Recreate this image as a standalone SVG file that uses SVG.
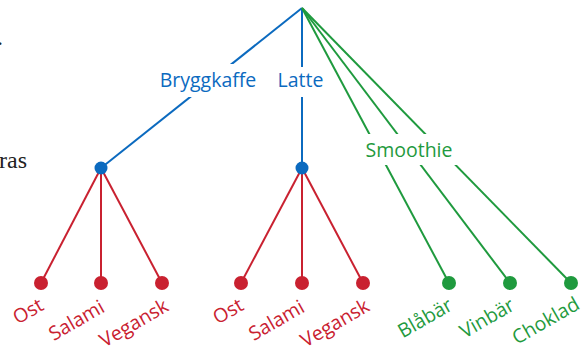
<svg xmlns="http://www.w3.org/2000/svg" width="584" height="348" viewBox="0 0 584 348">
  <style>
    .edge { fill: none; stroke-width: 2; }
    .blue { stroke: #0b6abf; }
    .red { stroke: #c92130; }
    .green { stroke: #1f9a3e; }
    .dot-blue { fill: #0b6abf; }
    .dot-red { fill: #c92130; }
    .dot-green { fill: #1f9a3e; }
    .lbl { font-family: "Open Sans", "Noto Sans", sans-serif; font-size: 19.5px; }
    .t-blue { fill: #0b6abf; }
    .t-red { fill: #c92130; }
    .t-green { fill: #1f9a3e; }
    .mask { fill: #ffffff; }
    .body { font-family: "Liberation Serif", serif; font-size: 24px; fill: #222222; }
  </style>

  <rect width="584" height="348" fill="#ffffff"/>

  <!-- surrounding body text -->
  <text class="body" x="3" y="45" text-anchor="end">.</text>
  <text class="body" x="27" y="168" text-anchor="end">ras</text>

  <g id="connectors">
    <!-- root to drinks -->
    <line class="edge blue" x1="302" y1="8" x2="101" y2="168"/>
    <line class="edge blue" x1="302" y1="8" x2="302" y2="168"/>
    <line class="edge green" x1="302" y1="8" x2="449" y2="283"/>
    <line class="edge green" x1="302" y1="8" x2="510" y2="283"/>
    <line class="edge green" x1="302" y1="8" x2="571" y2="283"/>
    <!-- Bryggkaffe to fillings -->
    <line class="edge red" x1="101" y1="168" x2="41" y2="283"/>
    <line class="edge red" x1="101" y1="168" x2="101" y2="283"/>
    <line class="edge red" x1="101" y1="168" x2="162" y2="283"/>
    <!-- Latte to fillings -->
    <line class="edge red" x1="302" y1="168" x2="241" y2="283"/>
    <line class="edge red" x1="302" y1="168" x2="302" y2="283"/>
    <line class="edge red" x1="302" y1="168" x2="363" y2="283"/>
  </g>

  <!-- edge labels with white backing -->
  <g id="edge-labels">
    <rect class="mask" x="156" y="64" width="104" height="33"/>
    <text class="lbl t-blue" x="208" y="87" text-anchor="middle">Bryggkaffe</text>
    <rect class="mask" x="274" y="67" width="53" height="30"/>
    <text class="lbl t-blue" x="300.5" y="87" text-anchor="middle">Latte</text>
    <rect class="mask" x="361" y="134" width="97" height="31"/>
    <text class="lbl t-green" x="409" y="157" text-anchor="middle">Smoothie</text>
  </g>

  <g id="bryggkaffe"><circle cx="101" cy="168" r="6.5" class="dot-blue"/></g>
  <g id="latte"><circle cx="302" cy="168" r="6.5" class="dot-blue"/></g>

  <g id="bk-ost">
    <circle cx="41" cy="283" r="7" class="dot-red"/>
    <text class="lbl t-red" text-anchor="end" transform="translate(45 309) rotate(-30)">Ost</text>
  </g>
  <g id="bk-salami">
    <circle cx="101" cy="283" r="7" class="dot-red"/>
    <text class="lbl t-red" text-anchor="end" transform="translate(106 311) rotate(-30)">Salami</text>
  </g>
  <g id="bk-vegansk">
    <circle cx="162" cy="283" r="7" class="dot-red"/>
    <text class="lbl t-red" text-anchor="end" transform="translate(170 310) rotate(-30)">Vegansk</text>
  </g>

  <g id="latte-ost">
    <circle cx="241" cy="283" r="7" class="dot-red"/>
    <text class="lbl t-red" text-anchor="end" transform="translate(245 309) rotate(-30)">Ost</text>
  </g>
  <g id="latte-salami">
    <circle cx="302" cy="283" r="7" class="dot-red"/>
    <text class="lbl t-red" text-anchor="end" transform="translate(306 311) rotate(-30)">Salami</text>
  </g>
  <g id="latte-vegansk">
    <circle cx="363" cy="283" r="7" class="dot-red"/>
    <text class="lbl t-red" text-anchor="end" transform="translate(371 310) rotate(-30)">Vegansk</text>
  </g>

  <g id="blabar">
    <circle cx="449" cy="283" r="7" class="dot-green"/>
    <text class="lbl t-green" text-anchor="end" transform="translate(454 309) rotate(-30)">Blåbär</text>
  </g>
  <g id="vinbar">
    <circle cx="510" cy="283" r="7" class="dot-green"/>
    <text class="lbl t-green" text-anchor="end" transform="translate(516 309) rotate(-30)">Vinbär</text>
  </g>
  <g id="choklad">
    <circle cx="571" cy="283" r="7" class="dot-green"/>
    <text class="lbl t-green" text-anchor="end" transform="translate(581 308) rotate(-30)">Choklad</text>
  </g>
</svg>
